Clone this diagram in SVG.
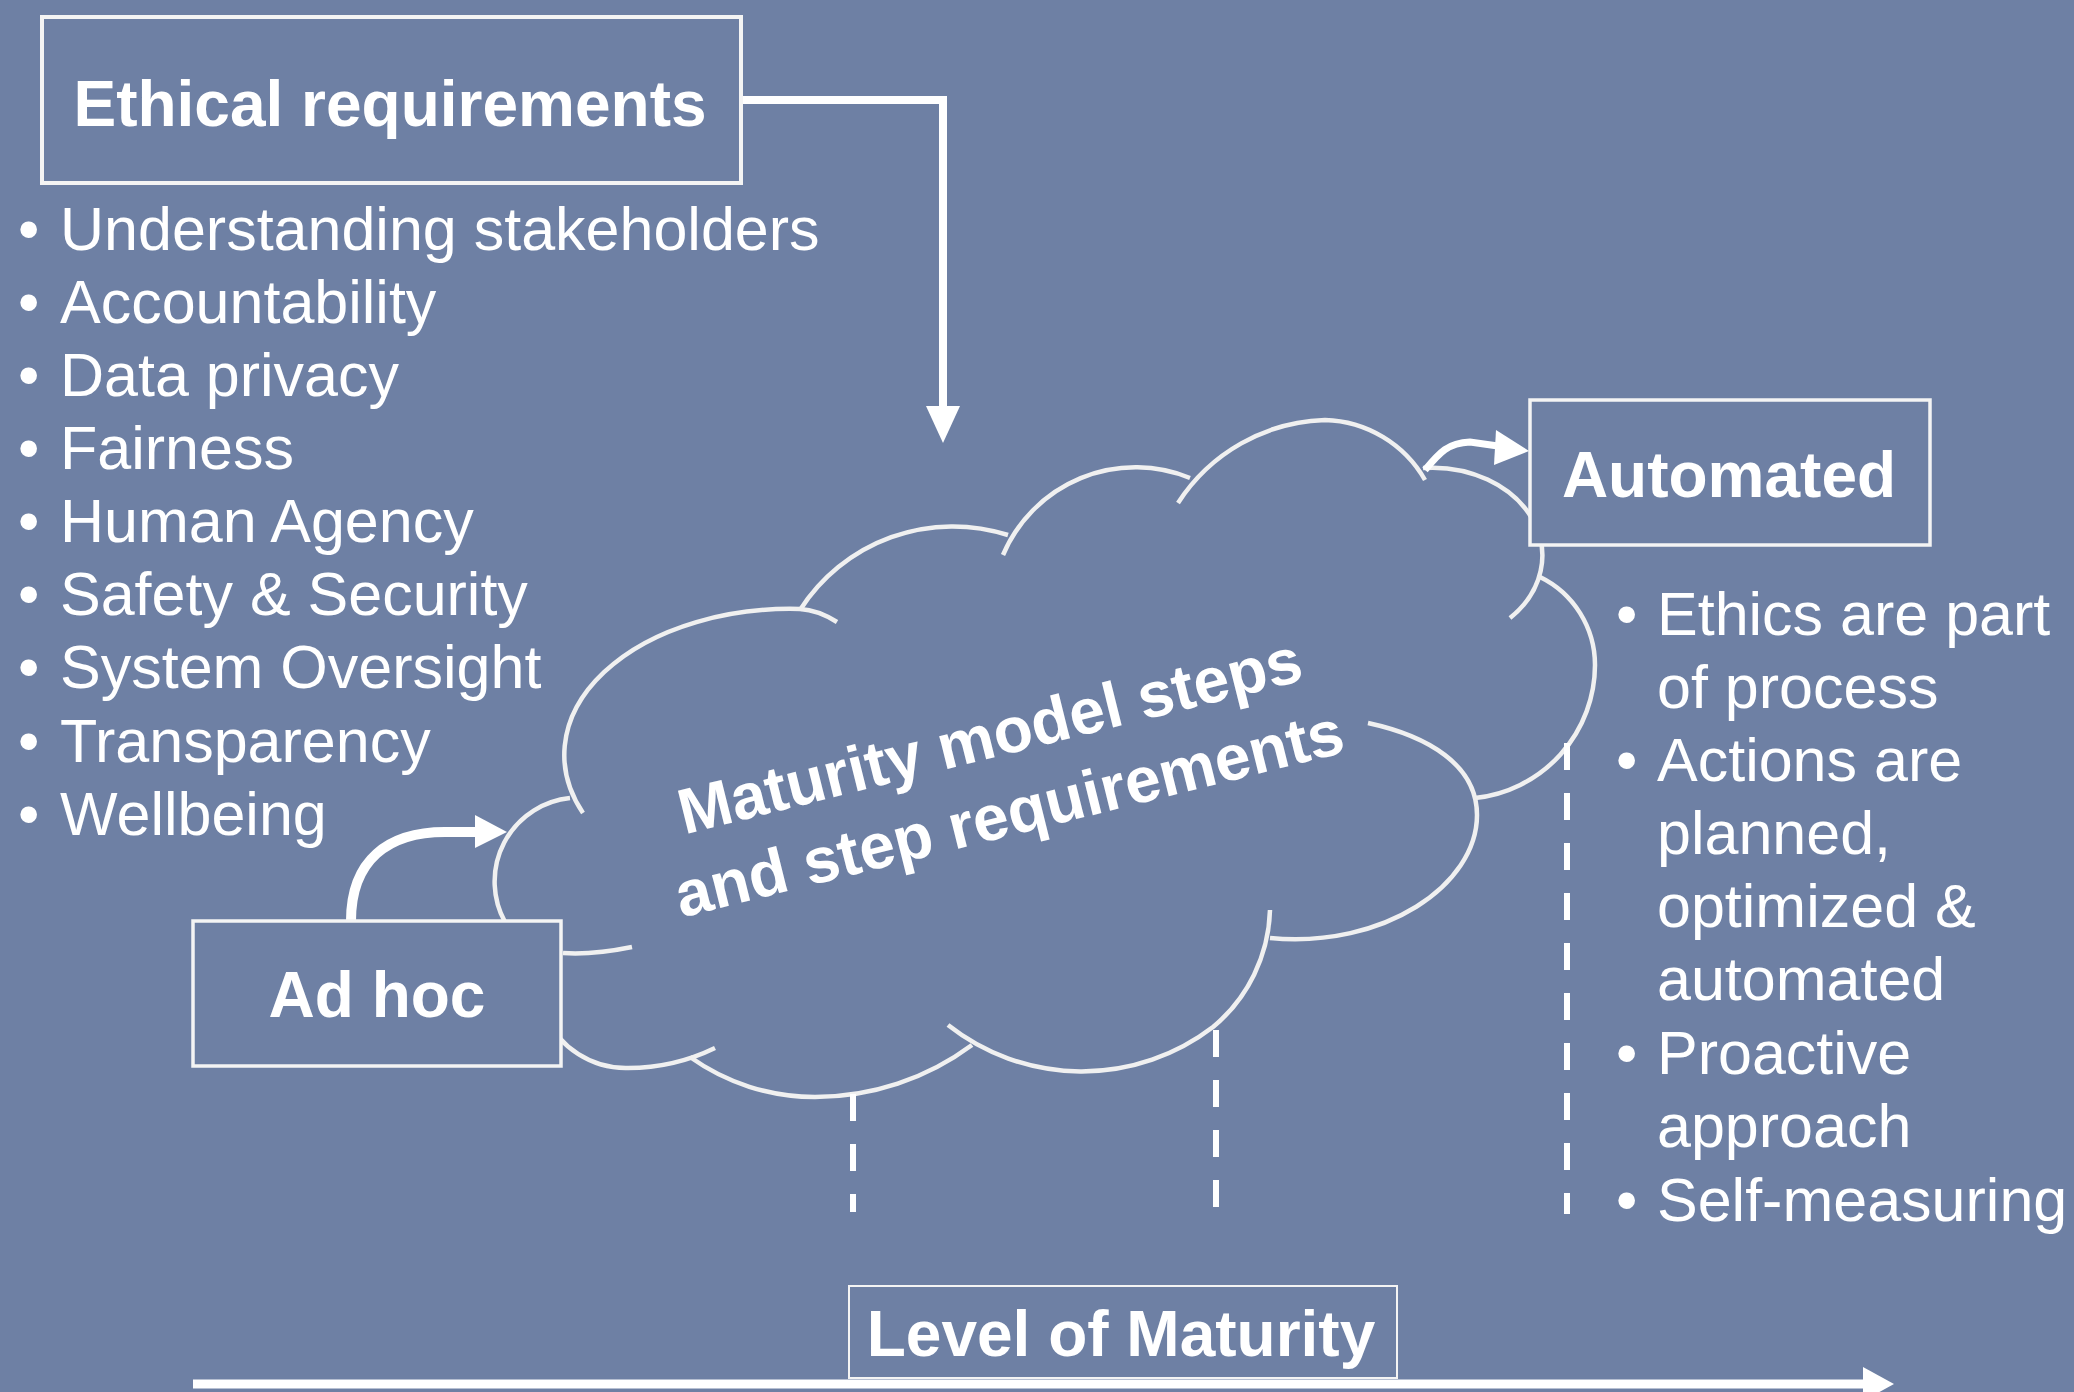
<svg xmlns="http://www.w3.org/2000/svg" width="2074" height="1392" viewBox="0 0 2074 1392">
<style>
.t{font-family:"Liberation Sans",Arial,sans-serif;fill:#ffffff}
.h{font-size:64px;font-weight:bold;text-anchor:middle}
.b{font-size:61px}
.box{fill:#6E80A4;stroke:#F4F4F4;stroke-width:4}
.cl{fill:none;stroke:#F0F0F0;stroke-width:4.5}
.ar{fill:none;stroke:#ffffff;stroke-width:8}
.dash{fill:none;stroke:#ffffff;stroke-width:6;stroke-dasharray:27 23}
.head{fill:#ffffff}
</style>
<rect width="2074" height="1392" fill="#6E80A4"/>
<g id="cloud">
<path class="cl" d="M570,798 A84,84 0 0 0 505,922"/>
<path class="cl" d="M583,813 A226,146 0 0 1 800,609 Q818,610 837,622"/>
<path class="cl" d="M800,610 A181.5,181.5 0 0 1 1008,535"/>
<path class="cl" d="M1003,555 A144,144 0 0 1 1190,478"/>
<path class="cl" d="M1178,503 A181.5,181.5 0 0 1 1325,420 A119,119 0 0 1 1425,480"/>
<path class="cl" d="M1423,468 A110,88 0 0 1 1510,618"/>
<path class="cl" d="M1540,577 A98,98 0 0 1 1595,665 A134,134 0 0 1 1475,798"/>
<path class="cl" d="M1368,723 C1428,736 1477,765 1477,815 C1477,885 1384,948.6 1270,938"/>
<path class="cl" d="M1270,910 A158,158 0 0 1 1213,1027 A216,216 0 0 1 948,1025"/>
<path class="cl" d="M972,1045 A263,263 0 0 1 815,1097 A215,215 0 0 1 690,1057"/>
<path class="cl" d="M715,1048 A199,199 0 0 1 628,1068 A88,88 0 0 1 545,1015"/>
<path class="cl" d="M563,953 Q593,955 632,947"/>
<g transform="translate(995,757) rotate(-14)">
<text class="t h" x="0" y="0">Maturity model steps</text>
<text class="t h" x="0" y="80">and step requirements</text>
</g>
</g>
<g id="connectors">
<path class="dash" d="M853,1094 V1212"/>
<path class="dash" d="M1216,1030 V1208"/>
<path class="dash" d="M1567,743 V1214"/>
<path class="ar" d="M741,100 H943 V410"/>
<polygon class="head" points="926,406 960,406 943,443"/>
<path class="ar" style="stroke-width:10" d="M351,921 C351,860 388,832 445,832 L478,832"/>
<polygon class="head" points="475,815 507,832 475,848"/>
<path class="ar" style="stroke-width:7" d="M1425,470 C1440,452 1448,443 1470,442 L1498,446"/>
<polygon class="head" points="1496,430 1529,451 1494,465"/>
<path class="ar" style="stroke-width:9" d="M193,1384 H1866"/>
<polygon class="head" points="1863,1367 1894,1384 1863,1401"/>
</g>
<g id="ethical">
<rect class="box" x="42" y="17" width="699" height="166"/>
<text class="t h" x="390" y="126">Ethical requirements</text>
</g>
<g id="ethical-list" class="t b">
<text y="250"><tspan x="18">•</tspan><tspan x="60">Understanding stakeholders</tspan></text>
<text y="323"><tspan x="18">•</tspan><tspan x="60">Accountability</tspan></text>
<text y="396"><tspan x="18">•</tspan><tspan x="60">Data privacy</tspan></text>
<text y="469"><tspan x="18">•</tspan><tspan x="60">Fairness</tspan></text>
<text y="542"><tspan x="18">•</tspan><tspan x="60">Human Agency</tspan></text>
<text y="615"><tspan x="18">•</tspan><tspan x="60">Safety &amp; Security</tspan></text>
<text y="688"><tspan x="18">•</tspan><tspan x="60">System Oversight</tspan></text>
<text y="762"><tspan x="18">•</tspan><tspan x="60">Transparency</tspan></text>
<text y="835"><tspan x="18">•</tspan><tspan x="60">Wellbeing</tspan></text>
</g>
<g id="automated">
<rect class="box" style="stroke-width:3.5" x="1530" y="400" width="400" height="145"/>
<text class="t h" x="1729" y="497">Automated</text>
</g>
<g id="automated-list" class="t b">
<text y="635"><tspan x="1616">•</tspan><tspan x="1657">Ethics are part</tspan></text>
<text x="1657" y="708">of process</text>
<text y="781"><tspan x="1616">•</tspan><tspan x="1657">Actions are</tspan></text>
<text x="1657" y="854">planned,</text>
<text x="1657" y="927">optimized &amp;</text>
<text x="1657" y="1000">automated</text>
<text y="1074"><tspan x="1616">•</tspan><tspan x="1657">Proactive</tspan></text>
<text x="1657" y="1147">approach</text>
<text y="1221"><tspan x="1616">•</tspan><tspan x="1657">Self-measuring</tspan></text>
</g>
<g id="adhoc">
<rect class="box" style="stroke-width:3.5" x="193" y="921" width="368" height="145"/>
<text class="t h" x="377" y="1017">Ad hoc</text>
</g>
<g id="level">
<rect class="box" style="stroke-width:2" x="849" y="1286" width="548" height="92"/>
<text class="t h" x="1121" y="1356">Level of Maturity</text>
</g>
</svg>
